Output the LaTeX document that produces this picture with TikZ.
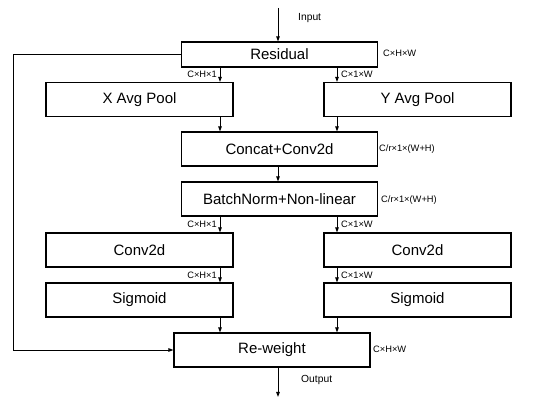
\documentclass[tikz,border=0pt]{standalone}
\usepackage{fontspec}
\setmainfont{Liberation Sans}
\usetikzlibrary{arrows.meta}
\begin{document}
\begin{tikzpicture}[x=1pt,y=-1pt,
  box/.style={draw=black,line width=1.1pt,minimum height=34pt,inner sep=0pt,font=\fontsize{15}{17}\selectfont},
  wide/.style={minimum width=196pt},
  side/.style={minimum width=187pt},
  dim/.style={font=\fontsize{9.3}{11}\selectfont,inner sep=0pt},
  io/.style={font=\fontsize{10.3}{12}\selectfont,inner sep=0pt},
  arr/.style={draw=black,line width=0.9pt,-{Triangle[length=5pt,width=3.5pt]}},
  ln/.style={draw=black,line width=0.9pt}]
\useasboundingbox (0,0) rectangle (550,406);
\coordinate (xl) at (220,0);
\coordinate (xr) at (337,0);
\coordinate (xm) at (278,0);
\coordinate (xb) at (13,0);
\coordinate (inp) at (278,8);
\coordinate (outp) at (278,397);

\node[box,wide,minimum height=25pt] (res) at (279.5,54.5) {Residual};
\node[box,side] (xp) at (139.5,99.5) {X Avg Pool};
\node[box,side] (yp) at (417.5,99.5) {Y Avg Pool};
\node[box,wide] (cc) at (279.5,149) {Concat+Conv2d};
\node[box,wide] (bn) at (279.5,199) {BatchNorm+Non-linear};
\node[box,side] (cl) at (139.5,250) {Conv2d};
\node[box,side] (cr) at (417.5,250) {Conv2d};
\node[box,side] (sl) at (139.5,300) {Sigmoid};
\node[box,side] (sr) at (417.5,300) {Sigmoid};
\node[box,wide] (rw) at (272,350) {Re-weight};

\node[io,anchor=west] (tin) at (298,18) {Input};
\node[io,anchor=west] (tout) at (301,380) {Output};
\node[dim,anchor=west] (d1) at (383,53) {C×H×W};
\node[dim,anchor=east] (d2) at (217,74) {C×H×1};
\node[dim,anchor=west] (d3) at (341,74) {C×1×W};
\node[dim,anchor=west] (d4) at (379,149) {C/r×1×(W+H)};
\node[dim,anchor=west] (d5) at (381,200) {C/r×1×(W+H)};
\node[dim,anchor=east] (d6) at (217,224) {C×H×1};
\node[dim,anchor=west] (d7) at (341,224) {C×1×W};
\node[dim,anchor=east] (d8) at (217,275) {C×H×1};
\node[dim,anchor=west] (d9) at (341,275) {C×1×W};
\node[dim,anchor=west] (d10) at (373,349) {C×H×W};

\draw[arr] (inp) -- (res.north -| inp);
\draw[arr] (res.south -| xl) -- (xp.north -| xl);
\draw[arr] (res.south -| xr) -- (yp.north -| xr);
\draw[arr] (xp.south -| xl) -- (cc.north -| xl);
\draw[arr] (yp.south -| xr) -- (cc.north -| xr);
\draw[arr] (cc.south -| xm) -- (bn.north -| xm);
\draw[arr] (bn.south -| xl) -- (cl.north -| xl);
\draw[arr] (bn.south -| xr) -- (cr.north -| xr);
\draw[arr] (cl.south -| xl) -- (sl.north -| xl);
\draw[arr] (cr.south -| xr) -- (sr.north -| xr);
\draw[arr] (sl.south -| xl) -- (rw.north -| xl);
\draw[arr] (sr.south -| xr) -- (rw.north -| xr);
\draw[arr] (rw.south -| outp) -- (outp);
\draw[arr] (res.west) -- (res.west -| xb) -- (rw.west -| xb) -- (rw.west);
\end{tikzpicture}
\end{document}
